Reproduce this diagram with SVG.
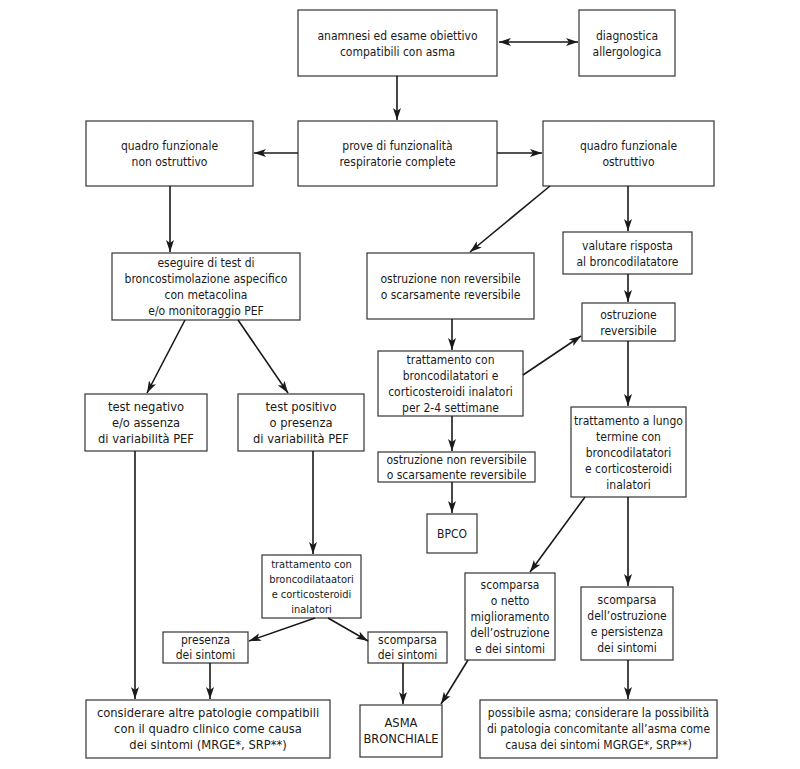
<svg xmlns="http://www.w3.org/2000/svg" width="800" height="769" viewBox="0 0 800 769">
<defs>
<marker id="ah" viewBox="0 0 12 8" refX="12" refY="4" markerWidth="12" markerHeight="8" markerUnits="userSpaceOnUse" orient="auto-start-reverse">
<path d="M0,0 L12,4 L0,8 L3,4 z" fill="#1a1a1a"/>
</marker>
<style>
rect{fill:#fff;stroke:#333;stroke-width:1.2}
text{font-family:"Liberation Sans Narrow","DejaVu Sans Condensed","Liberation Sans",sans-serif;font-size:12px;fill:#1a1a1a;text-anchor:middle}
.s11 text{font-size:11px}
.s13 text{font-size:12.8px}
.c line{stroke:#1a1a1a;stroke-width:1.6;marker-end:url(#ah)}
</style>
</defs>
<rect x="0" y="0" width="800" height="769" style="fill:#fff;stroke:none"/>
<g id="n1"><rect x="298" y="10" width="199" height="66"/><text x="397.5" y="39.5">anamnesi ed esame obiettivo</text><text x="397.5" y="55.5">compatibili con asma</text></g>
<g id="n2"><rect x="579" y="10" width="96" height="66"/><text x="627" y="39.5">diagnostica</text><text x="627" y="55.5">allergologica</text></g>
<g id="n3"><rect x="298" y="121" width="199" height="65"/><text x="397.5" y="150">prove di funzionalità</text><text x="397.5" y="166">respiratorie complete</text></g>
<g id="n4"><rect x="86" y="121" width="167" height="65"/><text x="169.5" y="150">quadro funzionale</text><text x="169.5" y="166">non ostruttivo</text></g>
<g id="n5"><rect x="543" y="121" width="171" height="65"/><text x="628.5" y="150">quadro funzionale</text><text x="628.5" y="166">ostruttivo</text></g>
<g id="n6"><rect x="112" y="253" width="188" height="67"/><text x="206" y="267">eseguire di test di</text><text x="206" y="283">broncostimolazione aspecifico</text><text x="206" y="299">con metacolina</text><text x="206" y="315">e/o monitoraggio PEF</text></g>
<g id="n7"><rect x="367" y="253" width="167" height="66"/><text x="450.5" y="282.5">ostruzione non reversibile</text><text x="450.5" y="298.5">o scarsamente reversibile</text></g>
<g id="n8"><rect x="563" y="232" width="129" height="42"/><text x="627.5" y="249.5">valutare risposta</text><text x="627.5" y="265.5">al broncodilatatore</text></g>
<g id="n9"><rect x="582" y="303" width="93" height="38"/><text x="628.5" y="318.5">ostruzione</text><text x="628.5" y="334.5">reversibile</text></g>
<g id="n10"><rect x="378" y="351" width="145" height="65"/><text x="450.5" y="364">trattamento con</text><text x="450.5" y="380">broncodilatatori e</text><text x="450.5" y="396">corticosteroidi inalatori</text><text x="450.5" y="412">per 2-4 settimane</text></g>
<g id="n11"><rect x="571" y="407" width="115" height="90"/><text x="628.5" y="424.5">trattamento a lungo</text><text x="628.5" y="440.5">termine con</text><text x="628.5" y="456.5">broncodilatatori</text><text x="628.5" y="472.5">e corticosteroidi</text><text x="628.5" y="488.5">inalatori</text></g>
<g id="n12"><rect x="378" y="452" width="157" height="30"/><text x="456.5" y="464">ostruzione non reversibile</text><text x="456.5" y="479">o scarsamente reversibile</text></g>
<g id="n13"><rect x="427" y="514" width="50" height="39"/><text x="452" y="538">BPCO</text></g>
<g id="n14" class="s13"><rect x="85" y="394" width="122" height="57"/><text x="146" y="410.5">test negativo</text><text x="146" y="426.5">e/o assenza</text><text x="146" y="442.5">di variabilità PEF</text></g>
<g id="n15" class="s13"><rect x="238" y="394" width="126" height="57"/><text x="301" y="410.5">test positivo</text><text x="301" y="426.5">o presenza</text><text x="301" y="442.5">di variabilità PEF</text></g>
<g id="n16" class="s11"><rect x="262" y="555" width="99" height="63"/><text x="311.5" y="568">trattamento con</text><text x="311.5" y="583">broncodilataatori</text><text x="311.5" y="598">e corticosteroidi</text><text x="311.5" y="613">inalatori</text></g>
<g id="n17"><rect x="163" y="632" width="85" height="31"/><text x="205.5" y="644">presenza</text><text x="205.5" y="659">dei sintomi</text></g>
<g id="n18"><rect x="368" y="632" width="79" height="31"/><text x="407.5" y="644">scomparsa</text><text x="407.5" y="659">dei sintomi</text></g>
<g id="n19"><rect x="465" y="573" width="90" height="87"/><text x="510" y="589">scomparsa</text><text x="510" y="605">o netto</text><text x="510" y="621">miglioramento</text><text x="510" y="637">dell’ostruzione</text><text x="510" y="653">e dei sintomi</text></g>
<g id="n20"><rect x="581" y="587" width="92" height="73"/><text x="627" y="604">scomparsa</text><text x="627" y="620">dell’ostruzione</text><text x="627" y="636">e persistenza</text><text x="627" y="652">dei sintomi</text></g>
<g id="n21" class="s13"><rect x="86" y="700" width="244" height="58"/><text x="208" y="717">considerare altre patologie compatibili</text><text x="208" y="733">con il quadro clinico come causa</text><text x="208" y="749">dei sintomi (MRGE*, SRP**)</text></g>
<g id="n22" class="s13"><rect x="360" y="705" width="82" height="52"/><text x="401" y="727">ASMA</text><text x="401" y="743">BRONCHIALE</text></g>
<g id="n23"><rect x="480" y="700" width="237" height="58"/><text x="598.5" y="717">possibile asma; considerare la possibilità</text><text x="598.5" y="733">di patologia concomitante all’asma come</text><text x="598.5" y="749">causa dei sintomi MGRGE*, SRP**)</text></g>
<g class="c" id="connectors">
<line x1="499" y1="42" x2="578" y2="42" style="marker-start:url(#ah)"/>
<line x1="397" y1="76" x2="397" y2="120"/>
<line x1="298" y1="153" x2="254" y2="153"/>
<line x1="497" y1="153" x2="542" y2="153"/>
<line x1="170" y1="186" x2="170" y2="252"/>
<line x1="550" y1="186" x2="470" y2="252"/>
<line x1="628" y1="186" x2="628" y2="231"/>
<line x1="628" y1="274" x2="628" y2="302"/>
<line x1="452" y1="319" x2="452" y2="350"/>
<line x1="523" y1="375" x2="581" y2="336"/>
<line x1="628" y1="341" x2="628" y2="406"/>
<line x1="452" y1="416" x2="452" y2="451"/>
<line x1="452" y1="482" x2="452" y2="513"/>
<line x1="185" y1="320" x2="147" y2="393"/>
<line x1="238" y1="320" x2="288" y2="393"/>
<line x1="135" y1="451" x2="135" y2="699"/>
<line x1="313" y1="451" x2="313" y2="554"/>
<line x1="315" y1="618" x2="249" y2="641"/>
<line x1="328" y1="618" x2="368" y2="641"/>
<line x1="210" y1="663" x2="210" y2="699"/>
<line x1="403" y1="663" x2="403" y2="704"/>
<line x1="585" y1="497" x2="530" y2="572"/>
<line x1="628" y1="497" x2="628" y2="586"/>
<line x1="468" y1="660" x2="441" y2="704"/>
<line x1="628" y1="660" x2="628" y2="699"/>
</g>
</svg>
